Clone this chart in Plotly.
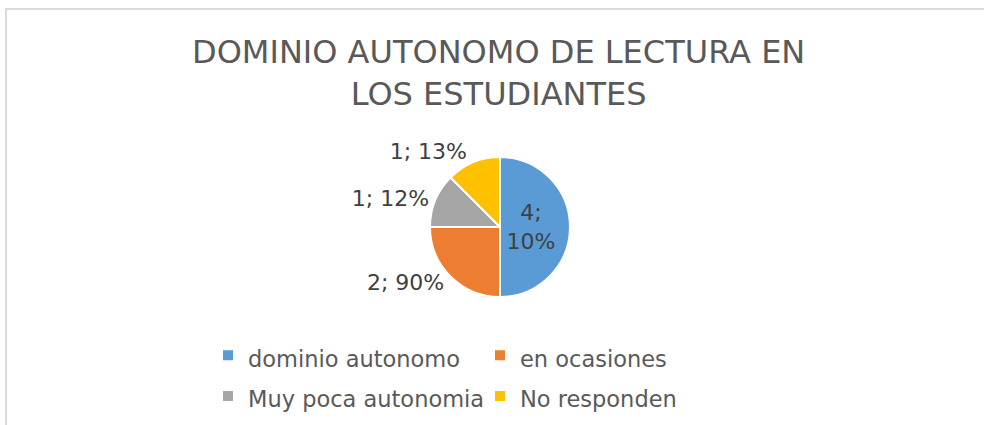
import plotly.graph_objects as go

categories = ["dominio autonomo", "en ocasiones", "Muy poca autonomia", "No responden"]
values = [4, 2, 1, 1]
label_texts = ["4;<br>10%", "2; 90%", "1; 12%", "1; 13%"]
colors = ["#5B9BD5", "#ED7D31", "#A5A5A5", "#FFC000"]
title_text = "DOMINIO AUTONOMO DE LECTURA EN<br>LOS ESTUDIANTES"

W, H = 984, 425
ML, MR = 150, 150
GW = W - ML - MR


def px(x):
    return (x - ML) / GW


def py(y):
    return 1 - y / H


cx, cy, r = 500, 227, 70

legend_labels = [f"<span style='font-size:22.5px'>{c}</span>" for c in categories]

fig = go.Figure(go.Pie(
    labels=legend_labels,
    values=values,
    text=label_texts,
    texttemplate="%{text}",
    textposition=["inside", "outside", "outside", "outside"],
    insidetextorientation="horizontal",
    sort=False,
    direction="clockwise",
    rotation=0,
    marker=dict(colors=colors, line=dict(color="white", width=2)),
    textfont=dict(family="DejaVu Sans", size=22, color="#404040"),
    domain=dict(x=[px(cx - r), px(cx + r)], y=[py(cy + r), py(cy - r)]),
    showlegend=True,
    hovertemplate="%{customdata}: %{value}<extra></extra>",
    customdata=categories,
))

fig.add_annotation(
    text=title_text, x=px(498), y=py(31), xref="paper", yref="paper",
    xanchor="center", yanchor="top", showarrow=False, align="center",
    font=dict(family="DejaVu Sans", size=32, color="#595959"),
)

fig.add_shape(type="rect", xref="paper", yref="paper",
              x0=px(6), x1=px(W + 10), y0=py(H + 10), y1=py(9),
              line=dict(color="#D9D9D9", width=2), fillcolor="rgba(0,0,0,0)")

fig.update_layout(
    width=W, height=H,
    margin=dict(l=ML, r=MR, t=0, b=0),
    paper_bgcolor="white", plot_bgcolor="white",
    legend=dict(
        orientation="h", x=px(208), y=py(330), xanchor="left", yanchor="top",
        entrywidth=227, entrywidthmode="pixels", itemwidth=30,
        font=dict(family="DejaVu Sans", size=29, color="#595959"),
        bgcolor="rgba(0,0,0,0)",
    ),
)

fig.write_html("out.html", config={"displayModeBar": False},
               post_script="document.body.style.margin='0';")
